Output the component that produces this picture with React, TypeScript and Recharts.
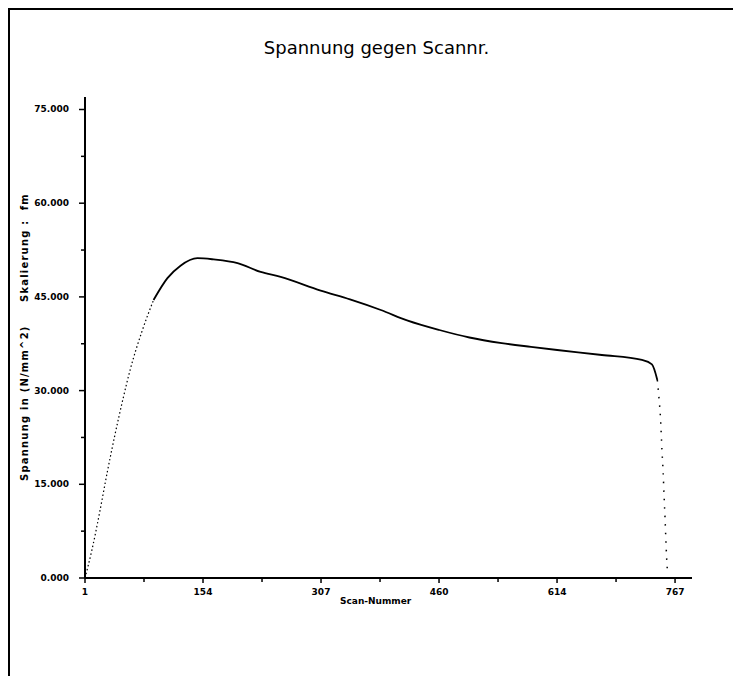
import React from "react";
import { LineChart, Line, XAxis, YAxis } from "recharts";

// scan number / stress readings, split where the plotter changed pen density
const riseScan = [1, 10, 20, 30, 40, 50, 60, 75, 90];
const riseValue = [0, 4.5, 10.5, 17, 23, 28.5, 33.5, 39.5, 44.5];

const plateauScan = [90, 108, 125, 147, 168, 199, 229, 255, 307, 345, 385, 420, 461, 500, 542, 580, 614, 672, 724, 737, 744];
const plateauValue = [44.5, 48, 50, 51.2, 51, 50.4, 49, 48.2, 46, 44.6, 42.9, 41.2, 39.7, 38.5, 37.6, 37, 36.5, 35.7, 34.9, 34.2, 31.7];

const dropScan = [744, 746, 748, 750, 751.5, 752.8, 754, 755, 756, 757];
const dropValue = [31.7, 29, 25.8, 20.5, 17, 13, 9.6, 6.4, 3.4, 1.3];

const xMajor = [1, 154.2, 307.4, 460.6, 613.8, 767];
const xLabels = ["1", "154", "307", "460", "614", "767"];
const xMinor = [77.6, 230.8, 384, 537.2, 690.4];

const yMajor = [0, 15, 30, 45, 60, 75];
const yLabels = ["0.000", "15.000", "30.000", "45.000", "60.000", "75.000"];
const yMinor = [7.5, 22.5, 37.5, 52.5, 67.5];

const toPoints = (xs: number[], ys: number[]) => xs.map((s, i) => ({ scan: s, value: ys[i] }));

const rise = toPoints(riseScan, riseValue);
const plateau = toPoints(plateauScan, plateauValue);
const drop = toPoints(dropScan, dropValue);

const tickFont = { fontFamily: "DejaVu Sans", fontWeight: 700, fontSize: 9 };

function XTick(props: any) {
  const { x, y, payload } = props;
  const idx = xMajor.findIndex((v) => Math.abs(v - payload.value) < 0.01);
  const major = idx >= 0;
  return (
    <g>
      <line x1={x} x2={x} y1={y - 1} y2={y + (major ? 5 : 4)} stroke="#000" strokeWidth={1.5} />
      {major && (
        <text x={x} y={y + 17} textAnchor="middle" fill="#000" style={tickFont}>
          {xLabels[idx]}
        </text>
      )}
    </g>
  );
}

function YTick(props: any) {
  const { x, y, payload } = props;
  const idx = yMajor.findIndex((v) => Math.abs(v - payload.value) < 0.01);
  const major = idx >= 0;
  return (
    <g>
      <line x1={x - (major ? 6 : 4)} x2={x + 1} y1={y} y2={y} stroke="#000" strokeWidth={1.5} />
      {major && (
        <text x={x - 16} y={y + 3} textAnchor="end" fill="#000" style={tickFont}>
          {yLabels[idx]}
        </text>
      )}
    </g>
  );
}

export default function App() {
  return (
    <div style={{ position: "relative", width: 733, height: 668, borderTop: "2px solid #000", borderLeft: "2px solid #000", boxSizing: "border-box", background: "#fff" }}>
      <div
        style={{
          position: "absolute",
          top: 27,
          left: 0,
          width: 733,
          textAlign: "center",
          fontFamily: "DejaVu Sans",
          fontSize: 18,
          color: "#000",
        }}
      >
        Spannung gegen Scannr.
      </div>
      <div
        style={{
          position: "absolute",
          left: 14,
          top: 327,
          width: 0,
          height: 0,
        }}
      >
        <div
          style={{
            position: "absolute",
            transform: "translate(-50%, -50%) rotate(-90deg)",
            whiteSpace: "pre",
            ...tickFont,
            fontSize: 10,
            letterSpacing: 1.2,
            color: "#000",
          }}
        >
          {"Spannung in (N/mm^2)     Skalierung :  fm"}
        </div>
      </div>
      <div
        style={{
          position: "absolute",
          top: 586,
          left: 330,
          ...tickFont,
          color: "#000",
        }}
      >
        Scan-Nummer
      </div>
      <LineChart
        width={731}
        height={666}
        margin={{ top: 87, right: 49, bottom: 0, left: 15 }}
        style={{ position: "absolute", top: 0, left: 0 }}
      >
        <XAxis
          dataKey="scan"
          type="number"
          domain={[1, 789]}
          ticks={[...xMajor, ...xMinor].sort((a, b) => a - b)}
          tick={<XTick />}
          tickLine={false}
          tickSize={0}
          tickMargin={0}
          height={98}
          stroke="#000"
          strokeWidth={2}
          allowDuplicatedCategory={false}
          interval={0}
        />
        <YAxis
          type="number"
          domain={[0, 77]}
          ticks={[...yMajor, ...yMinor].sort((a, b) => a - b)}
          tick={<YTick />}
          tickLine={false}
          tickSize={0}
          tickMargin={0}
          width={60}
          stroke="#000"
          strokeWidth={2}
          interval={0}
          allowDataOverflow
        />
        <Line data={rise} dataKey="value" type="monotone" stroke="#000" strokeWidth={1.2} strokeDasharray="1.5 2.5" dot={false} isAnimationActive={false} />
        <Line data={plateau} dataKey="value" type="monotone" stroke="#000" strokeWidth={1.8} dot={false} isAnimationActive={false} />
        <Line data={drop} dataKey="value" type="monotone" stroke="#000" strokeWidth={1.5} strokeDasharray="1.5 7" dot={false} isAnimationActive={false} />
      </LineChart>
    </div>
  );
}
